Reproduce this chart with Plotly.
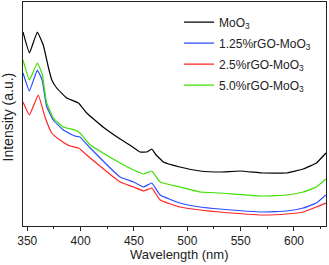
import plotly.graph_objects as go

wl_black = [346, 352, 359.4, 365, 369.7, 373, 377.6, 387, 398, 405.7, 421, 437, 446, 455.6, 462, 466.7, 470, 477.6, 493, 512, 530.6, 549.4, 571.2, 593, 608.7, 621, 630]
black = [194, 173, 194, 181, 159, 146, 138, 128, 123, 113, 99, 87, 81, 74, 74, 77, 72, 64, 59, 55, 54, 55, 53, 53, 57, 63, 73]

wl_green = [346, 352, 359.4, 364, 368, 374.4, 383.8, 394.7, 399.4, 409, 437, 449.7, 459, 466.7, 474.5, 493, 512, 530.6, 571.2, 593, 608.7, 621, 630]
green = [166, 146, 163, 152, 124, 108, 99, 96, 93, 81, 63, 56, 52, 55, 44, 39, 34, 33, 30, 31, 34, 39, 47]

wl_blue = [346, 352, 359.4, 364, 368, 374.4, 383.8, 394.7, 399.4, 409, 437, 449.7, 459, 466.7, 474.5, 493, 512, 530.6, 571.2, 593, 608.7, 621, 630]
blue = [153, 135, 156, 146, 120, 106, 96, 90, 89, 78, 49, 44, 39, 43, 31, 23, 19, 17, 14, 15, 18, 23, 31]

wl_red = [346, 352, 360.3, 366.6, 372.9, 380.7, 390, 398, 409, 437, 449.7, 459, 466.7, 474.5, 493, 512, 530.6, 571.2, 593, 608.7, 621, 630]
red = [124, 111, 131, 109, 93, 86, 80, 78, 68, 44, 39, 35, 38, 26, 19, 16, 14, 11, 12, 14, 19, 23]

names = ["MoO<sub>3</sub>", "1.25%rGO-MoO<sub>3</sub>", "2.5%rGO-MoO<sub>3</sub>", "5.0%rGO-MoO<sub>3</sub>"]
colors = ["#000000", "#2a4cff", "#ff2424", "#3ee000"]

fig = go.Figure()
series = [(wl_black, black), (wl_blue, blue), (wl_red, red), (wl_green, green)]
for i, (xs, ys) in enumerate(series):
    fig.add_trace(go.Scatter(x=xs, y=ys, mode="lines", name=names[i], legendgroup=str(i),
                             line=dict(color=colors[i], width=1.2, shape="spline", smoothing=0.3)))

fig.update_layout(
    width=329, height=265,
    margin=dict(l=23, r=3, t=2, b=39, autoexpand=False),
    paper_bgcolor="white", plot_bgcolor="white",
    font=dict(family="Liberation Sans, Arial", size=12, color="#222"),
    showlegend=True,
    legend=dict(x=0.515, y=0.975, xanchor="left", yanchor="top", bgcolor="rgba(0,0,0,0)",
                font=dict(size=12), itemwidth=30, tracegroupgap=2),
    xaxis=dict(range=[346, 630], tickvals=[350, 400, 450, 500, 550, 600], automargin=False,
               ticks="outside", ticklen=4, tickcolor="#222", tickfont=dict(size=12),
               minor=dict(tickvals=[375, 425, 475, 525, 575, 625], ticks="outside", ticklen=2, tickcolor="#222"),
               showline=True, linecolor="#222", linewidth=1, mirror=True, showgrid=False, zeroline=False),
    yaxis=dict(range=[0, 224], showticklabels=False, ticks="", automargin=False,
               showline=True, linecolor="#222", linewidth=1, mirror=True, showgrid=False, zeroline=False),
    annotations=[
        dict(text="Wavelength (nm)", xref="paper", yref="paper", x=0.518, y=-0.125,
             showarrow=False, font=dict(size=13), xanchor="center", yanchor="middle"),
        dict(text="Intensity (a.u.)", xref="paper", yref="paper", x=-0.051, y=0.487,
             showarrow=False, font=dict(size=14), textangle=-90, xanchor="center", yanchor="middle"),
    ],
)

fig.write_html("out.html", config={"displayModeBar": False},
               post_script="document.body.style.margin='0px';")
